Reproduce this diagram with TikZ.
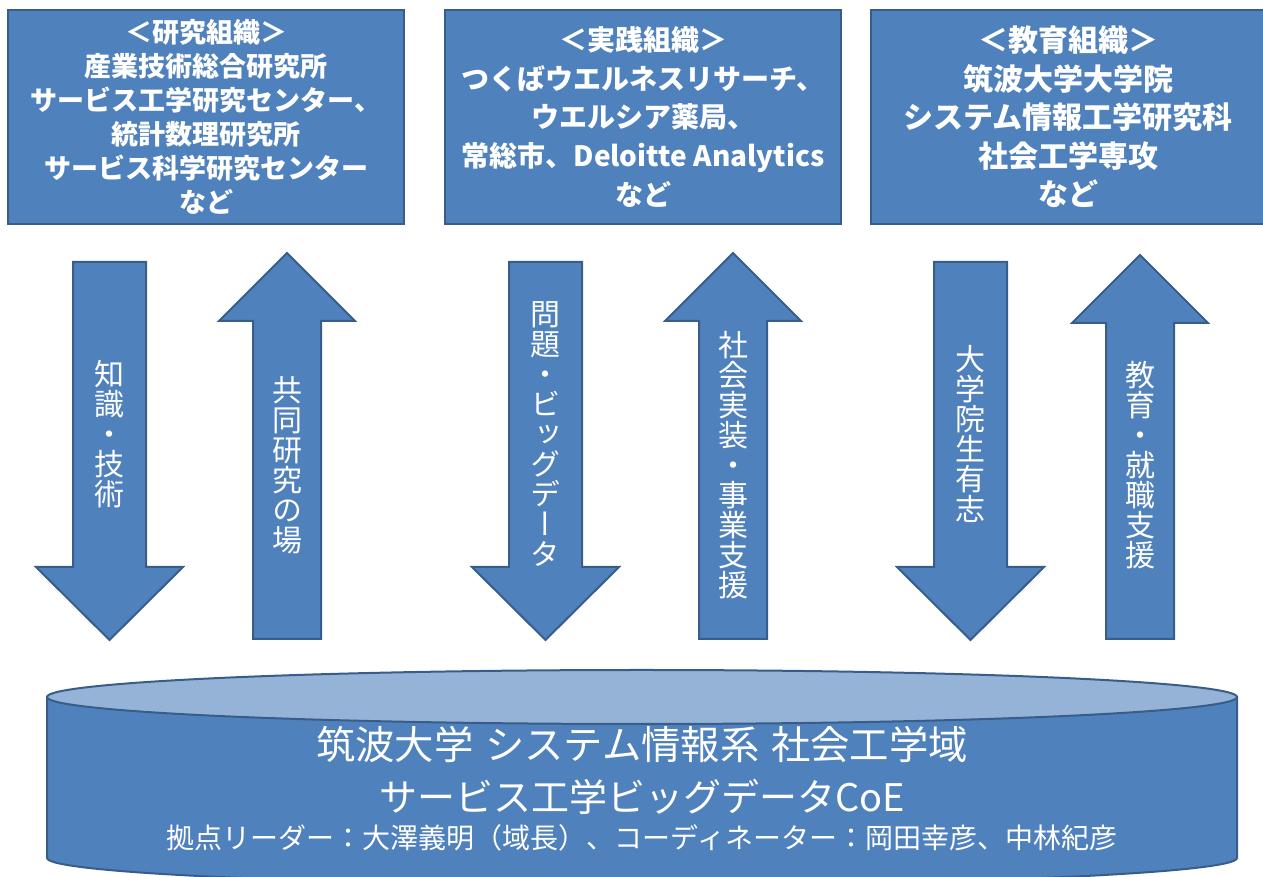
\documentclass[tikz,border=0pt]{standalone}
\usepackage{fontspec}
\setmainfont{Noto Sans CJK JP}
\newfontfamily\vjp[RawFeature=+vert]{Noto Sans CJK JP}
\usepackage{xcolor}
\usetikzlibrary{positioning}

\definecolor{boxblue}{HTML}{4F81BD}
\definecolor{edgeblue}{HTML}{385D8A}
\definecolor{lidblue}{HTML}{95B3D7}

\begin{document}
\begin{tikzpicture}[x=0.75pt, y=0.75pt, text=white]
  \tikzstyle{org} = [rectangle, draw=edgeblue, fill=boxblue, line width=1.5pt, minimum width=297pt, minimum height=160.5pt, align=center]
  \tikzstyle{flow} = [draw=edgeblue, fill=boxblue, line width=1.5pt, line join=miter]
  \tikzstyle{vlabel} = [align=center, font=\vjp\fontsize{22.5}{22.5}\selectfont]

  \clip (0,0) rectangle (1263,877);

  % the three partner organisations
  \node[org, font=\bfseries\fontsize{20.25}{25.5}\selectfont] (research) at (206,760) {＜研究組織＞\\産業技術総合研究所\\サービス工学研究センター、\\統計数理研究所\\サービス科学研究センター\\など};
  \node[org, right=29.25pt of research, font=\bfseries\fontsize{21}{28.9}\selectfont] (practice) {＜実践組織＞\\つくばウエルネスリサーチ、\\ウエルシア薬局、\\常総市、Deloitte Analytics\\など};
  \node[org, right=21pt of practice, minimum width=295.5pt, font=\bfseries\fontsize{22.5}{28.9}\selectfont] (education) {＜教育組織＞\\筑波大学大学院\\システム情報工学研究科\\社会工学専攻\\など};

  % flows between the partners and the CoE
  \draw[flow] (73,615) -- (73,310) -- (36,310) -- (109.5,237) -- (183,310) -- (146,310) -- (146,615) -- cycle;
  \node[vlabel] (knowhow) at (109.5,443) {知\\識\\・\\技\\術};
  \draw[flow] (253,238) -- (253,556) -- (219,556) -- (287,624) -- (355,556) -- (321,556) -- (321,238) -- cycle;
  \node[vlabel] (joint) at (287,412) {共\\同\\研\\究\\の\\場};

  \draw[flow] (509,615) -- (509,310) -- (472,310) -- (545.5,237) -- (619,310) -- (582,310) -- (582,615) -- cycle;
  \node[vlabel] (bigdata) at (545.5,443) {問\\題\\・\\ビ\\ッ\\グ\\デ\\ー\\タ};
  \draw[flow] (699,238) -- (699,556) -- (665,556) -- (733,624) -- (801,556) -- (767,556) -- (767,238) -- cycle;
  \node[vlabel] (deploy) at (733,412) {社\\会\\実\\装\\・\\事\\業\\支\\援};

  \draw[flow] (934,615) -- (934,310) -- (897,310) -- (970.5,237) -- (1044,310) -- (1007,310) -- (1007,615) -- cycle;
  \node[vlabel] (students) at (970.5,443) {大\\学\\院\\生\\有\\志};
  \draw[flow] (1106,238) -- (1106,554) -- (1072,554) -- (1140,622) -- (1208,554) -- (1174,554) -- (1174,238) -- cycle;
  \node[vlabel] (career) at (1140,412) {教\\育\\・\\就\\職\\支\\援};

  % the CoE drum
  \draw[flow] (47,180) -- (47,19) arc[start angle=180, end angle=360, x radius=595, y radius=27] -- (1237,180) -- cycle;
  \draw[flow, fill=lidblue] (642,180) ellipse [x radius=595, y radius=27];
  \node[font=\fontsize{29.5}{30}\selectfont] (dept) at (642,132) {筑波大学\hspace{0.3em}システム情報系\hspace{0.3em}社会工学域};
  \node[font=\fontsize{28.5}{30}\selectfont] (coe) at (642,80) {サービス工学ビッグデータCoE};
  \node[font=\fontsize{21}{24}\selectfont] (staff) at (642,39) {拠点リーダー：大澤義明（域長）、コーディネーター：岡田幸彦、中林紀彦};
\end{tikzpicture}
\end{document}
